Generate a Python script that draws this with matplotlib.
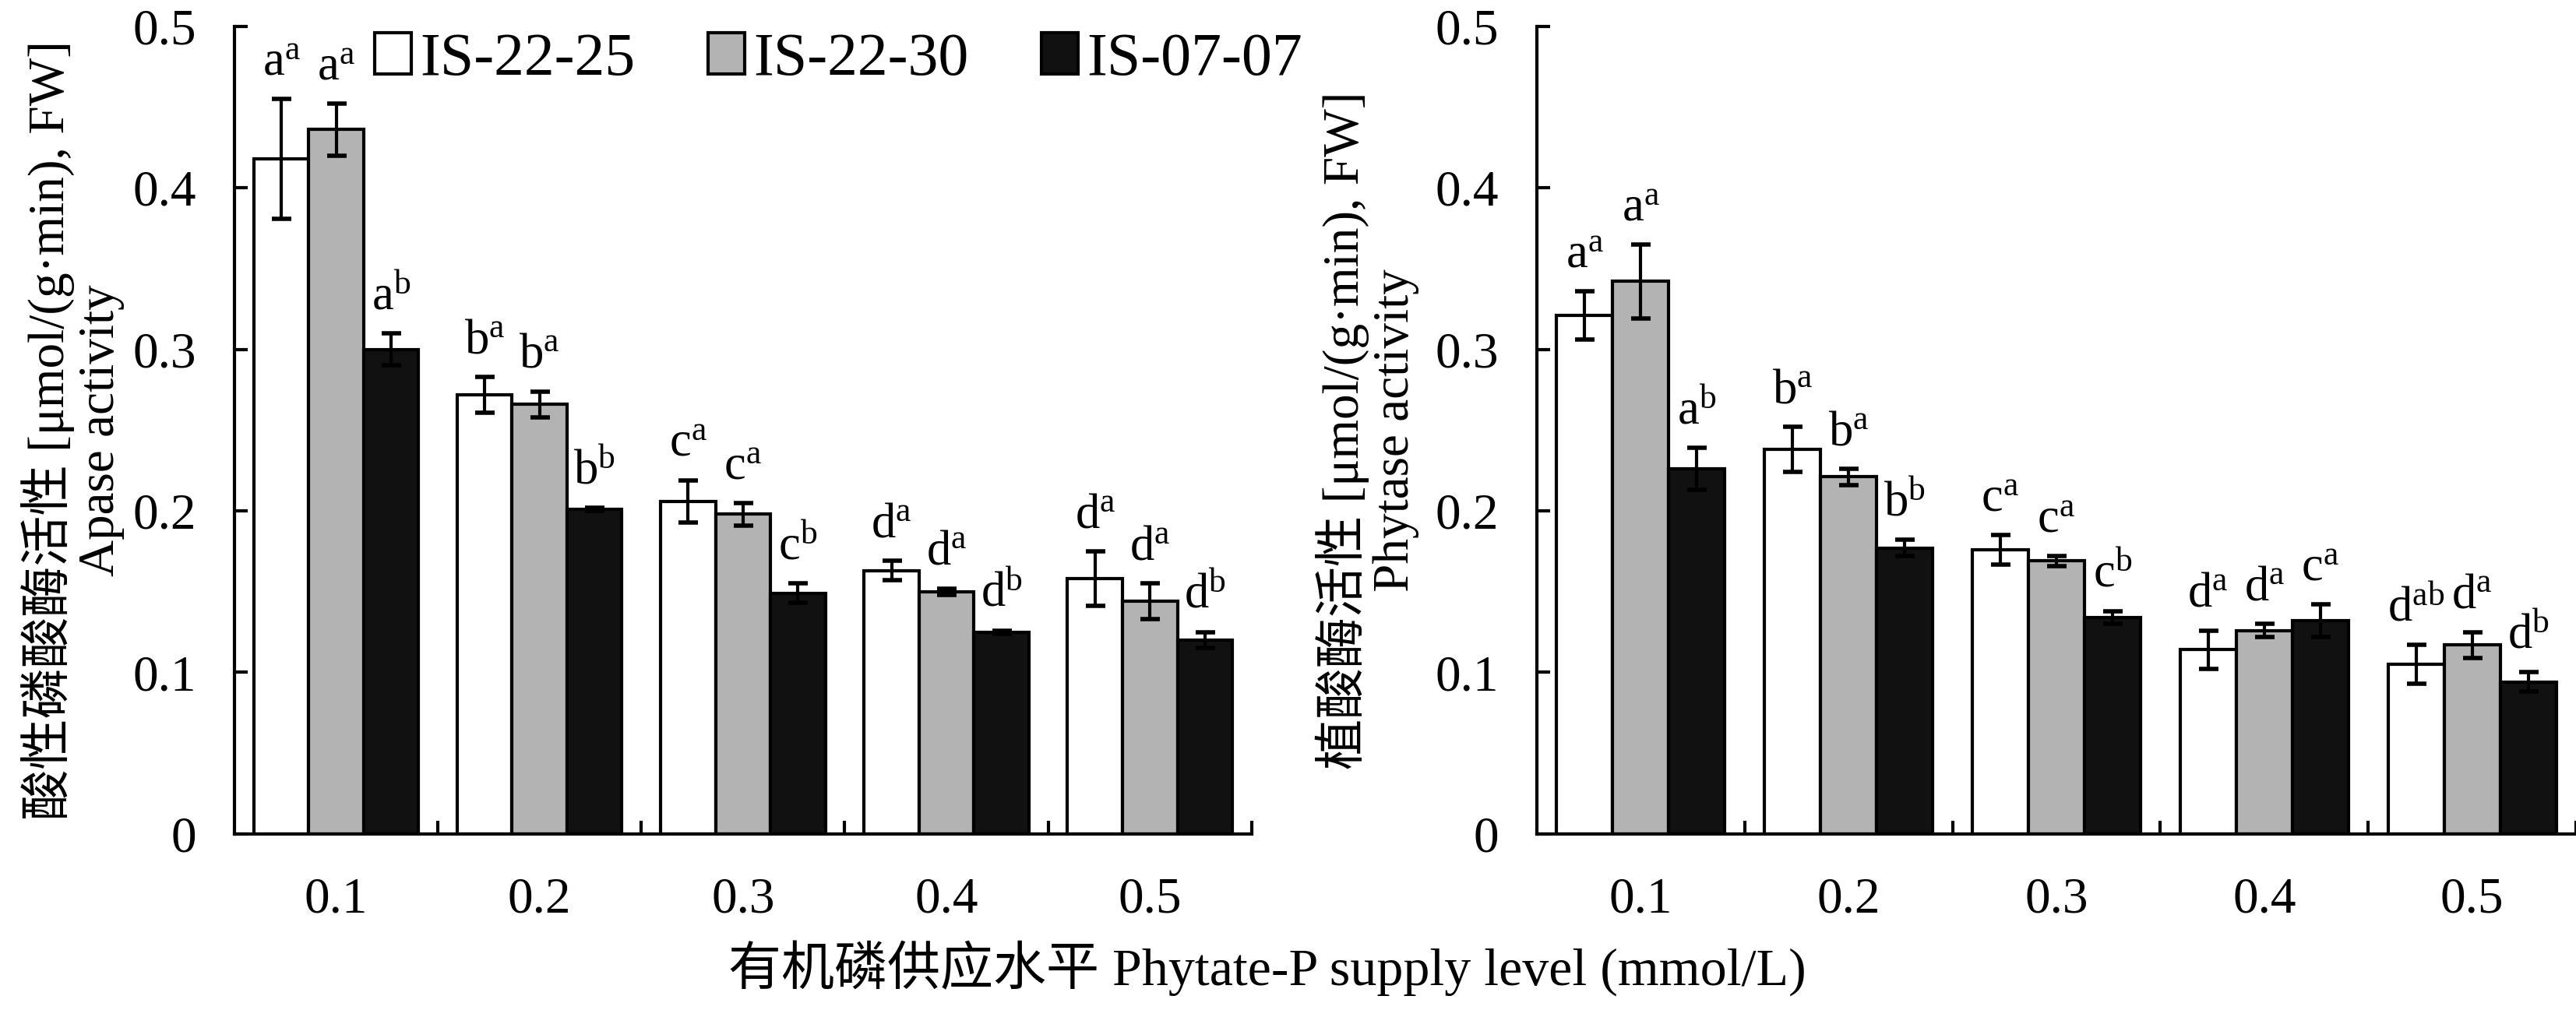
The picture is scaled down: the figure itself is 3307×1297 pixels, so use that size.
import matplotlib
matplotlib.use('Agg')
from matplotlib import pyplot as plt
from matplotlib.patches import Patch
import numpy as np

plt.rcParams['font.family'] = ['Liberation Serif', 'Noto Sans CJK SC']
plt.rcParams['mathtext.fontset'] = 'custom'
plt.rcParams['mathtext.rm'] = 'Liberation Serif'

levels = ['0.1', '0.2', '0.3', '0.4', '0.5']
lines = ['IS-22-25', 'IS-22-30', 'IS-07-07']
colors = ['white', '#b3b3b3', '#111111']

# acid phosphatase activity
apase = [
    [0.418, 0.272, 0.206, 0.163, 0.158],
    [0.436, 0.266, 0.198, 0.150, 0.144],
    [0.300, 0.201, 0.149, 0.125, 0.120],
]
apase_err = [
    [0.037, 0.011, 0.013, 0.006, 0.017],
    [0.016, 0.008, 0.007, 0.002, 0.011],
    [0.010, 0.001, 0.006, 0.001, 0.005],
]
apase_sig = [
    ['a^{a}', 'b^{a}', 'c^{a}', 'd^{a}', 'd^{a}'],
    ['a^{a}', 'b^{a}', 'c^{a}', 'd^{a}', 'd^{a}'],
    ['a^{b}', 'b^{b}', 'c^{b}', 'd^{b}', 'd^{b}'],
]

# phytase activity
phytase = [
    [0.321, 0.238, 0.176, 0.114, 0.105],
    [0.342, 0.221, 0.169, 0.126, 0.117],
    [0.226, 0.177, 0.134, 0.132, 0.094],
]
phytase_err = [
    [0.015, 0.014, 0.009, 0.012, 0.012],
    [0.023, 0.005, 0.003, 0.004, 0.008],
    [0.013, 0.005, 0.004, 0.010, 0.006],
]
phytase_sig = [
    ['a^{a}', 'b^{a}', 'c^{a}', 'd^{a}', 'd^{ab}'],
    ['a^{a}', 'b^{a}', 'c^{a}', 'd^{a}', 'd^{a}'],
    ['a^{b}', 'b^{b}', 'c^{b}', 'c^{a}', 'd^{b}'],
]

ylabels = ['酸性磷酸酶活性 [μmol/(g·min), FW]\nApase activity',
           '植酸酶活性 [μmol/(g·min), FW]\nPhytase activity']
xlabel = '有机磷供应水平 Phytate-P supply level (mmol/L)'
yticks = [0, 0.1, 0.2, 0.3, 0.4, 0.5]
ytick_labels = ['0', '0.1', '0.2', '0.3', '0.4', '0.5']

LW = 3.0
FS = 47
width = 0.27

fig = plt.figure(figsize=(33.07, 12.97), dpi=100)
ax1 = fig.add_axes([0.0910, 0.1743, 0.3949, 0.7997])
ax2 = fig.add_axes([0.5966, 0.1743, 0.4034, 0.7997])


def draw_panel(ax, values, errs, sigs, ylabel, label_x):
    x = np.arange(len(levels))
    for j in range(3):
        pos = x + (j - 1) * width
        ax.bar(pos, values[j], width, color=colors[j], edgecolor='black',
               linewidth=LW, zorder=2)
        ax.errorbar(pos, values[j], yerr=errs[j], fmt='none', ecolor='black',
                    elinewidth=LW, capsize=9, capthick=LW + 1, zorder=3)
        for k in range(len(levels)):
            ax.annotate('$\\mathregular{' + sigs[j][k] + '}$',
                        xy=(pos[k], values[j][k] + errs[j][k]),
                        xytext=(0, 12), textcoords='offset points',
                        ha='center', va='bottom', fontsize=45)
    ax.set_xlim(-0.5, 4.5)
    ax.set_ylim(0, 0.5)
    ax.spines['top'].set_visible(False)
    ax.spines['right'].set_visible(False)
    ax.spines['left'].set_linewidth(LW)
    ax.spines['bottom'].set_linewidth(LW)
    ax.set_yticks(yticks)
    ax.set_yticklabels(ytick_labels, fontsize=FS)
    ax.set_xticks(x)
    ax.set_xticklabels(levels, fontsize=FS)
    ax.set_xticks(x + 0.5, minor=True)
    ax.tick_params(axis='y', direction='in', length=12, width=LW, pad=35)
    ax.tick_params(axis='x', which='major', length=0, pad=40)
    ax.tick_params(axis='x', which='minor', direction='in', length=12, width=LW)
    ax.set_ylabel(ylabel, fontsize=FS, linespacing=1.1)
    ax.yaxis.set_label_coords(label_x, 0.5)


draw_panel(ax1, apase, apase_err, apase_sig, ylabels[0], -0.108)
draw_panel(ax2, phytase, phytase_err, phytase_sig, ylabels[1], -0.113)

handles = [Patch(facecolor=c, edgecolor='black', linewidth=LW) for c in colors]
fig.legend(handles, lines, loc='upper left', bbox_to_anchor=(0.1455, 0.968),
           ncol=3, frameon=False, fontsize=56, handlelength=0.6,
           handleheight=0.68, handletextpad=0.15, columnspacing=1.2,
           borderpad=0, borderaxespad=0)

fig.text(0.492, 0.041, xlabel, ha='center', va='center', fontsize=49)

plt.savefig('out.png', dpi=100)
